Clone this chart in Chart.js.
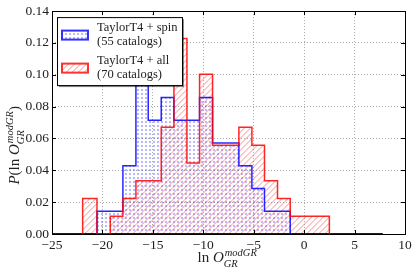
<!DOCTYPE html>
<html>
<head>
<meta charset="utf-8">
<script src="https://cdn.jsdelivr.net/npm/chart.js@4.4.0/dist/chart.umd.min.js"></script>
<style>
  html, body { margin: 0; padding: 0; background: #fff; }
  #wrap { width: 416px; height: 272px; }
</style>
</head>
<body>
<div id="wrap"><canvas id="chart"></canvas></div>
<script>
// Histogram of ln O_GR^modGR for two TaylorT4 catalog sets

const binEdges = [-21.96, -20.54, -19.22, -17.97, -16.68, -15.46, -14.17, -12.91, -11.62, -10.37,
  -9.08, -7.76, -6.47, -5.18, -3.93, -2.64, -1.38, -0.06, 1.22, 2.5];
const spinHeights = [0, 0.0143, 0.0143, 0.0429, 0.1143, 0.0714, 0.0857, 0.0714, 0.0714, 0.0857,
  0.0571, 0.0571, 0.0429, 0.0286, 0.0143, 0.0143, 0, 0, 0];
const allHeights = [0.0223, 0, 0.0112, 0.0223, 0.0335, 0.0335, 0.0670, 0.1228, 0.0446, 0.1004,
  0.0558, 0.0558, 0.0670, 0.0558, 0.0335, 0.0223, 0.0112, 0.0112, 0.0112];
const baselineX = [-25, 7.8];
const xTicks = [-25, -20, -15, -10, -5, 0, 5, 10];
const yTicks = [0, 0.02, 0.04, 0.06, 0.08, 0.10, 0.12, 0.14];
const legendLabels = [
  ['TaylorT4 + spin', '(55 catalogs)'],
  ['TaylorT4 + all', '(70 catalogs)']
];

const SERIF = '"Liberation Serif", "DejaVu Serif", serif';

// step outline of a histogram, closed down to zero at both ends
function outline(edges, heights) {
  const pts = [{ x: edges[0], y: 0 }];
  heights.forEach((h, i) => pts.push({ x: edges[i], y: h }));
  pts.push({ x: edges[edges.length - 1], y: heights[heights.length - 1] });
  pts.push({ x: edges[edges.length - 1], y: 0 });
  return pts;
}

function dotPattern() {
  const c = document.createElement('canvas');
  c.width = 4; c.height = 4;
  const g = c.getContext('2d');
  g.fillStyle = 'rgba(70, 70, 255, 0.38)';
  g.fillRect(1, 1, 2, 2);
  return g.createPattern(c, 'repeat');
}

function hatchPattern() {
  const c = document.createElement('canvas');
  c.width = 6; c.height = 6;
  const g = c.getContext('2d');
  g.fillStyle = 'rgba(255, 70, 70, 0.3)';
  // two-pixel wide diagonal "/" stripe through the tile
  for (let i = 0; i < 6; i++) {
    g.fillRect(i, 5 - i, 1, 1);
    g.fillRect(i, (6 - i) % 6, 1, 1);
  }
  return g.createPattern(c, 'repeat');
}

const dots = dotPattern();
const hatch = hatchPattern();

// legend box with shadow, drawn over the bars
const legendBox = {
  id: 'legendBox',
  afterDatasetsDraw(chart) {
    const ctx = chart.ctx;
    const a = chart.chartArea;
    const x = a.left + 5, y = a.top + 6, w = 125, h = 68;
    ctx.save();
    ctx.fillStyle = 'rgba(0,0,0,0.45)';
    ctx.fillRect(x + 2, y + 2, w, h);
    ctx.fillStyle = '#fff';
    ctx.fillRect(x, y, w, h);
    ctx.strokeStyle = '#000';
    ctx.lineWidth = 1;
    ctx.strokeRect(x + 0.5, y + 0.5, w, h);

    const swatches = [
      { fill: dots, stroke: 'rgba(0,0,255,0.8)', top: y + 13.5 },
      { fill: hatch, stroke: 'rgba(255,0,0,0.8)', top: y + 46.5 }
    ];
    swatches.forEach((s, i) => {
      ctx.fillStyle = s.fill;
      ctx.fillRect(x + 5, s.top, 26, 9);
      ctx.strokeStyle = s.stroke;
      ctx.lineWidth = 2;
      ctx.strokeRect(x + 5, s.top, 26, 9);
      ctx.fillStyle = '#222';
      ctx.font = '12.5px ' + SERIF;
      ctx.textBaseline = 'middle';
      ctx.textAlign = 'left';
      ctx.fillText(legendLabels[i][0], x + 40, s.top - 3);
      ctx.fillText(legendLabels[i][1], x + 40, s.top + 11);
    });
    ctx.restore();
  }
};

// frame, inward ticks and math-style axis titles
const frameAndTitles = {
  id: 'frameAndTitles',
  afterDraw(chart) {
    const ctx = chart.ctx;
    const a = chart.chartArea;
    const xs = chart.scales.x, ys = chart.scales.y;
    ctx.save();
    ctx.strokeStyle = '#000';
    ctx.lineWidth = 1;
    ctx.beginPath();
    xTicks.forEach(t => {
      const px = Math.round(xs.getPixelForValue(t)) + 0.5;
      ctx.moveTo(px, a.bottom); ctx.lineTo(px, a.bottom - 4);
      ctx.moveTo(px, a.top); ctx.lineTo(px, a.top + 4);
    });
    yTicks.forEach(t => {
      const py = Math.round(ys.getPixelForValue(t)) + 0.5;
      ctx.moveTo(a.left, py); ctx.lineTo(a.left + 4, py);
      ctx.moveTo(a.right, py); ctx.lineTo(a.right - 4, py);
    });
    ctx.stroke();
    ctx.strokeRect(Math.round(a.left) + 0.5, Math.round(a.top) + 0.5,
      Math.round(a.right - a.left), Math.round(a.bottom - a.top));

    ctx.fillStyle = '#222';
    ctx.textBaseline = 'alphabetic';
    ctx.textAlign = 'left';

    // draws "ln O^{modGR}_{GR}" starting at x0 on baseline y0, returns end x
    function drawOmod(x0, y0) {
      ctx.font = '15px ' + SERIF;
      ctx.fillText('ln ', x0, y0);
      let cx = x0 + ctx.measureText('ln ').width;
      ctx.font = 'italic 15px ' + SERIF;
      ctx.fillText('O', cx, y0);
      cx += ctx.measureText('O').width;
      ctx.font = 'italic 10.5px ' + SERIF;
      ctx.fillText('modGR', cx + 1, y0 - 6);
      const supW = ctx.measureText('modGR').width;
      ctx.fillText('GR', cx, y0 + 5);
      const subW = ctx.measureText('GR').width;
      return cx + Math.max(supW + 1, subW);
    }

    // x title
    drawOmod((a.left + a.right) / 2 - 31, 262);

    // y title, rotated
    ctx.translate(19, (a.top + a.bottom) / 2);
    ctx.rotate(-Math.PI / 2);
    const start = -62;
    ctx.font = 'italic 15px ' + SERIF;
    ctx.fillText('P', start, 0);
    let cx = start + ctx.measureText('P').width;
    ctx.font = '15px ' + SERIF;
    ctx.fillText('(', cx, 0);
    cx += ctx.measureText('(').width;
    cx = drawOmod(cx, 0);
    ctx.font = '15px ' + SERIF;
    ctx.fillText(')', cx, 0);
    ctx.restore();
  }
};

new Chart(document.getElementById('chart'), {
  type: 'line',
  data: {
    datasets: [
      {
        label: 'baseline',
        data: baselineX.map(x => ({ x: x, y: 0 })),
        borderColor: '#6b0000',
        borderWidth: 2,
        pointRadius: 0,
        fill: false,
        order: 3
      },
      {
        label: legendLabels[0].join(' '),
        data: outline(binEdges, spinHeights),
        stepped: true,
        borderColor: 'rgba(0, 0, 255, 0.85)',
        backgroundColor: dots,
        borderWidth: 1.5,
        pointRadius: 0,
        fill: 'origin',
        order: 2
      },
      {
        label: legendLabels[1].join(' '),
        data: outline(binEdges, allHeights),
        stepped: true,
        borderColor: 'rgba(255, 0, 0, 0.85)',
        backgroundColor: hatch,
        borderWidth: 1.5,
        pointRadius: 0,
        fill: 'origin',
        order: 1
      }
    ]
  },
  options: {
    responsive: true,
    maintainAspectRatio: false,
    animation: false,
    layout: { padding: { top: 9, right: 11, left: 0, bottom: 0 } },
    scales: {
      x: {
        type: 'linear',
        min: -25,
        max: 10,
        afterFit: s => { s.height = 38; },
        afterBuildTicks: s => { s.ticks = xTicks.map(v => ({ value: v })); },
        grid: { color: 'rgba(0,0,0,0.35)', drawTicks: false },
        border: { display: false, dash: [1, 2] },
        ticks: {
          padding: 3,
          color: '#222',
          font: { family: SERIF, size: 13.5 },
          callback: v => (v < 0 ? '\u2212' + Math.abs(v) : String(v))
        }
      },
      y: {
        min: 0,
        max: 0.14,
        afterFit: s => { s.width = 52; },
        afterBuildTicks: s => { s.ticks = yTicks.map(v => ({ value: v })); },
        grid: { color: 'rgba(0,0,0,0.35)', drawTicks: false },
        border: { display: false, dash: [1, 2] },
        ticks: {
          padding: 3,
          color: '#222',
          font: { family: SERIF, size: 13.5 },
          callback: v => v.toFixed(2)
        }
      }
    },
    plugins: {
      legend: { display: false },
      tooltip: { enabled: false },
      filler: { drawTime: 'beforeDatasetsDraw' }
    }
  },
  plugins: [legendBox, frameAndTitles]
});
</script>
</body>
</html>
